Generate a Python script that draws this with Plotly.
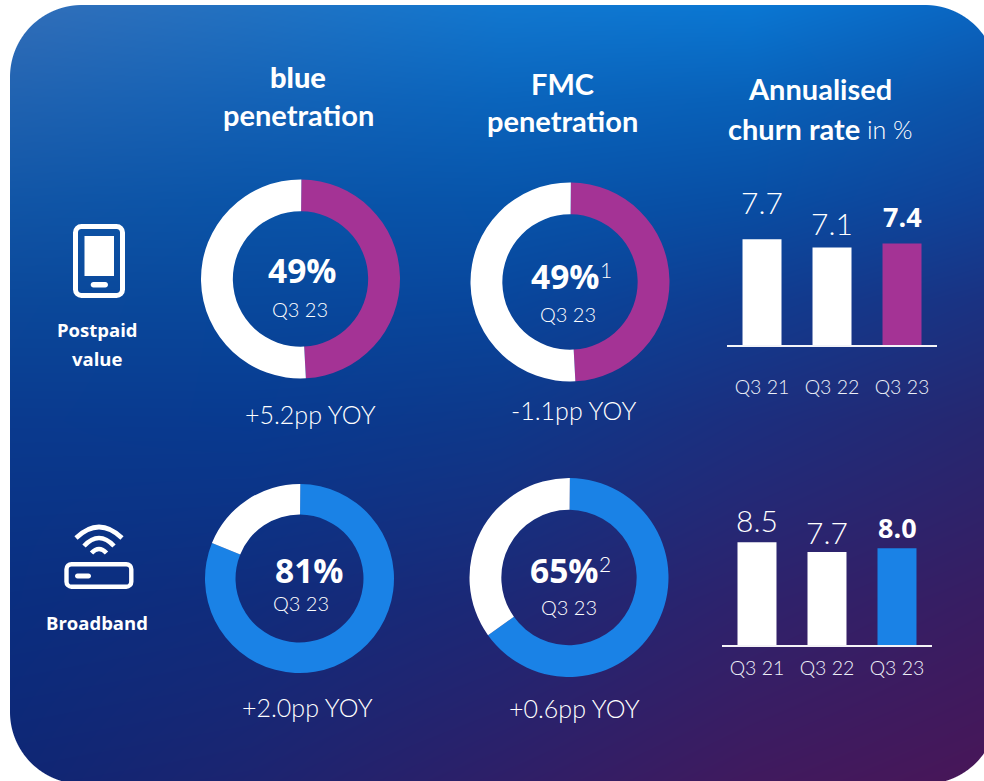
import base64, struct, zlib
import numpy as np
import plotly.graph_objects as go

W, H = 984, 781

# ---- data ----
donut_names = ["blue postpaid", "FMC postpaid", "blue broadband", "FMC broadband"]
donut_values = [49, 49, 81, 65]
bar_categories = ["Q3 21", "Q3 22", "Q3 23"]
postpaid_churn = [7.7, 7.1, 7.4]
broadband_churn = [8.5, 7.7, 8.0]
yoy_labels = ["+5.2pp YOY", "-1.1pp YOY", "+2.0pp YOY", "+0.6pp YOY"]

PURPLE = "#a43395"
BLUE = "#1a82e6"
WHITE = "#ffffff"
BOLD = "Lato"
BODY = "Open Sans"
LIGHT = "Lato"

# ---- gradient background as a PNG with alpha ----
gx = np.array([0, 250, 500, 750, 984], float)
gy = np.array([0, 100, 200, 300, 420, 600, 781], float)
grid = np.array([
    [[0x33,0x6e,0xb8],[0x22,0x72,0xc2],[0x12,0x78,0xd0],[0x0a,0x78,0xd4],[0x0a,0x66,0xc2]],
    [[0x20,0x62,0xb0],[0x14,0x62,0xb6],[0x0a,0x64,0xbc],[0x08,0x60,0xb8],[0x0c,0x52,0xa8]],
    [[0x11,0x55,0xa6],[0x0a,0x54,0xa8],[0x07,0x54,0xaa],[0x08,0x4e,0xa4],[0x10,0x42,0x98]],
    [[0x0b,0x48,0x9a],[0x08,0x48,0x9c],[0x08,0x46,0x9c],[0x10,0x3c,0x90],[0x1a,0x32,0x82]],
    [[0x0a,0x3a,0x8e],[0x08,0x3a,0x90],[0x0e,0x38,0x8a],[0x1c,0x2e,0x7e],[0x26,0x27,0x70]],
    [[0x0a,0x2e,0x80],[0x10,0x2c,0x7c],[0x1c,0x28,0x76],[0x2e,0x22,0x6c],[0x38,0x1d,0x62]],
    [[0x0e,0x26,0x74],[0x1c,0x24,0x70],[0x2e,0x1f,0x68],[0x40,0x1a,0x5e],[0x48,0x16,0x58]],
], float)
xs = np.arange(W)
ys = np.arange(H)
rows = np.stack([np.stack([np.interp(xs, gx, grid[j, :, c]) for c in range(3)], -1) for j in range(len(gy))])
img = np.stack([np.stack([np.interp(ys, gy, rows[:, i, c]) for i in range(W)], -1) for c in range(3)], -1)

# rounded-rect mask
L, T_, R_, B, rad = 10, 5, 997, 784, 72
X, Y = np.meshgrid(xs + .5, ys + .5)
dx = np.maximum(np.maximum(L + rad - X, X - (R_ - rad)), 0)
dy = np.maximum(np.maximum(T_ + rad - Y, Y - (B - rad)), 0)
d = np.hypot(dx, dy) - rad
alpha = np.clip(0.5 - d, 0, 1)
alpha[(X < L) | (Y < T_)] = 0
rgba = np.dstack([img, alpha * 255]).round().astype(np.uint8)


def png(a):
    def chunk(t, b):
        return struct.pack(">I", len(b)) + t + b + struct.pack(">I", zlib.crc32(t + b))
    raw = b"".join(b"\x00" + a[i].tobytes() for i in range(a.shape[0]))
    return (b"\x89PNG\r\n\x1a\n" + chunk(b"IHDR", struct.pack(">IIBBBBB", a.shape[1], a.shape[0], 8, 6, 0, 0, 0))
            + chunk(b"IDAT", zlib.compress(raw, 9)) + chunk(b"IEND", b""))


bg_uri = "data:image/png;base64," + base64.b64encode(png(rgba)).decode()


def px(x):
    return x / W


def py(y):
    return 1 - y / H


fig = go.Figure()

# ---- donuts ----
donut_geom = [(300.5, 279, 99.5, .68, PURPLE), (570, 282, 99.5, .68, PURPLE),
              (299.5, 578.5, 94.5, .677, BLUE), (569, 577.5, 99.5, .68, BLUE)]
for name, v, (cx, cy, r, hole, col) in zip(donut_names, donut_values, donut_geom):
    fig.add_trace(go.Pie(
        name=name, labels=["share", "rest"], values=[v, 100 - v], hole=hole, sort=False,
        direction="clockwise", rotation=0.5, textinfo="none", showlegend=False,
        marker=dict(colors=[col, WHITE], line=dict(width=0)),
        domain=dict(x=[px(cx - r), px(cx + r)], y=[py(cy + r), py(cy - r)]),
    ))

# ---- bars ----
fig.add_trace(go.Bar(x=bar_categories, y=postpaid_churn, marker=dict(color=[WHITE, WHITE, PURPLE], line=dict(width=0)),
                     width=0.557, xaxis="x", yaxis="y", showlegend=False))
fig.add_trace(go.Bar(x=bar_categories, y=broadband_churn, marker=dict(color=[WHITE, WHITE, BLUE], line=dict(width=0)),
                     width=0.557, xaxis="x2", yaxis="y2", showlegend=False))


def xaxis(x0, x1, ticklen, anchor):
    return dict(domain=[px(x0), px(x1)], range=[-0.5, 2.5], type="category", anchor=anchor,
                showgrid=False, zeroline=False, showline=True, linecolor="rgba(255,255,255,0.95)", linewidth=2,
                ticks="outside", ticklen=ticklen, tickcolor="rgba(0,0,0,0)",
                tickfont=dict(family=LIGHT, size=19.5, color="#eef1f8", weight=300))


def yaxis(y_base, ppu, anchor):
    return dict(domain=[py(y_base), py(y_base - 10 * ppu)], range=[0, 10], anchor=anchor, visible=False)


annotations = []


def T(x, y, text, size, family=BODY, weight=400, color=WHITE, anchor="center"):
    annotations.append(dict(xref="paper", yref="paper", x=px(x), y=py(y), text=text, showarrow=False,
                            xanchor=anchor, yanchor="middle", borderpad=0,
                            font=dict(family=family, size=size, color=color, weight=weight)))


def V(xa, ya, i, val, shift, bold):
    annotations.append(dict(xref=xa, yref=ya, x=i, y=val, yshift=shift, text=f"{val:.1f}", showarrow=False,
                            xanchor="center", yanchor="middle",
                            font=dict(family=BODY if bold else LIGHT, size=27 if bold else 30, color=WHITE,
                                      weight=700 if bold else 300)))


# titles
T(298, 76.5, "blue", 29, BOLD, 900)
T(298, 114.5, "penetration", 29, BOLD, 700)
T(562, 83.5, "FMC", 29, BOLD, 700)
T(562, 120.5, "penetration", 29, BOLD, 700)
T(820, 89, "Annualised", 29, BOLD, 700)
T(861, 128, "churn rate", 29, BOLD, 700, anchor="right")
T(866, 129, "in %", 25, LIGHT, 300, anchor="left")

# side labels
T(97, 329.5, "Postpaid", 18.5, BODY, 700)
T(97, 358.5, "value", 18.5, BODY, 700)
T(97, 622.5, "Broadband", 18.5, BODY, 700)

# donut centres
centres = [(302.5, 270, 300, 308.5), (565.5, 276, 568, 314), (309, 570, 301, 602.5), (564.5, 570, 569, 606.5)]
for v, (xv, yv, xq, yq) in zip(donut_values, centres):
    T(xv, yv, f"{v}%", 33.5, BODY, 700)
    T(xq, yq, "Q3 23", 20, LIGHT, 300)
T(606, 270, "1", 21, LIGHT, 300)
T(605, 563, "2", 21, LIGHT, 300)

# yoy
for t, (x, y) in zip(yoy_labels, [(310, 414), (574, 410), (307, 707), (574, 708)]):
    T(x, y, t, 25, LIGHT, 300)

# bar values
for i, (v, s) in enumerate(zip(postpaid_churn, [37, 25, 27])):
    V("x", "y", i, v, s, i == 2)
for i, (v, s) in enumerate(zip(broadband_churn, [22, 20, 21])):
    V("x2", "y2", i, v, s, i == 2)

# ---- icons ----
def P(cmds):
    out = []
    for c in cmds:
        if isinstance(c, str):
            out.append(c)
        else:
            out.append(f"{px(c[0]):.5f},{py(c[1]):.5f}")
    return " ".join(out)


def rrect(x0, y0, x1, y1, r):
    k = r * 0.45
    return P(["M", (x0 + r, y0), "L", (x1 - r, y0), "C", (x1 - k, y0), (x1, y0 + k), (x1, y0 + r),
              "L", (x1, y1 - r), "C", (x1, y1 - k), (x1 - k, y1), (x1 - r, y1),
              "L", (x0 + r, y1), "C", (x0 + k, y1), (x0, y1 - k), (x0, y1 - r),
              "L", (x0, y0 + r), "C", (x0, y0 + k), (x0 + k, y0), (x0 + r, y0), "Z"])


def arc(x0, y0, xm, ym, x1):
    return P(["M", (x0, y0), "Q", (xm, 2 * ym - y0), (x1, y0)])


shapes = [
    dict(type="path", xref="paper", yref="paper", path=rrect(75.5, 226.5, 122.5, 295.5, 6), line=dict(color=WHITE, width=5)),
    dict(type="path", xref="paper", yref="paper", path=rrect(84.5, 236, 114, 276, 0), fillcolor=WHITE, line=dict(width=0)),
    dict(type="path", xref="paper", yref="paper", path=rrect(90.7, 282, 108, 287.5, 2.7), fillcolor=WHITE, line=dict(width=0)),
    dict(type="path", xref="paper", yref="paper", path=rrect(66.5, 564.2, 131.3, 586.7, 5), line=dict(color=WHITE, width=4.4)),
    dict(type="path", xref="paper", yref="paper", path=rrect(75, 573.5, 91, 578.5, 2.5), fillcolor=WHITE, line=dict(width=0)),
]
for a in [arc(76, 538, 99, 527, 122), arc(84, 546, 99, 538, 114), arc(91.5, 553, 99, 549, 106.5)]:
    shapes.append(dict(type="path", xref="paper", yref="paper", path=a, line=dict(color=WHITE, width=4.6)))

fig.update_layout(
    width=W, height=H, autosize=False, margin=dict(l=0, r=0, t=0, b=0, pad=0),
    paper_bgcolor="white", plot_bgcolor="rgba(0,0,0,0)", showlegend=False, barmode="overlay",
    xaxis=xaxis(727, 937, 24, "y"), yaxis=yaxis(345, 13.73, "x"),
    xaxis2=xaxis(722, 932, 5, "y2"), yaxis2=yaxis(645, 12.08, "x2"),
    annotations=annotations, shapes=shapes,
    images=[dict(source=bg_uri, xref="paper", yref="paper", x=0, y=1, sizex=1, sizey=1,
                 xanchor="left", yanchor="top", sizing="stretch", layer="below")],
)
fig.write_html("out.html", config=dict(displayModeBar=False),
               post_script="document.body.style.margin='0';document.documentElement.style.overflow='hidden';")
